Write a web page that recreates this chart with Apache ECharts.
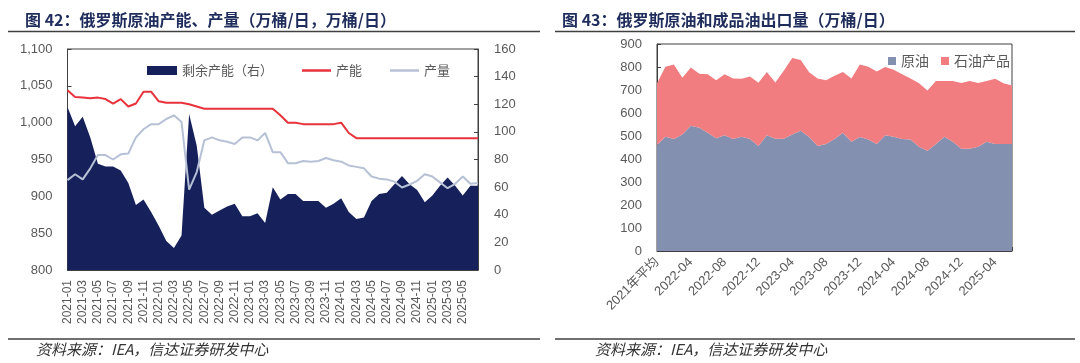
<!DOCTYPE html>
<html><head><meta charset="utf-8">
<script src="https://cdn.jsdelivr.net/npm/echarts@6/dist/echarts.min.js"></script>
<style>html,body{margin:0;padding:0;background:#fff;}#c{width:1080px;height:363px;}</style>
</head><body><div id="c"></div>
<script>
// ---- Left chart: 俄罗斯原油产能、产量 ----
const monthsL = ['2021-01','2021-02','2021-03','2021-04','2021-05','2021-06','2021-07','2021-08','2021-09','2021-10','2021-11','2021-12',
'2022-01','2022-02','2022-03','2022-04','2022-05','2022-06','2022-07','2022-08','2022-09','2022-10','2022-11','2022-12',
'2023-01','2023-02','2023-03','2023-04','2023-05','2023-06','2023-07','2023-08','2023-09','2023-10','2023-11','2023-12',
'2024-01','2024-02','2024-03','2024-04','2024-05','2024-06','2024-07','2024-08','2024-09','2024-10','2024-11','2024-12',
'2025-01','2025-02','2025-03','2025-04','2025-05','2025-06','2025-07'];
const spare = [118,104,111,96,77,75,75,72,63,47,51,42,32,21,16,25,113,90,45,40,43,46,48,39,39,41,34,60,51,55,55,50,50,50,45,48,52,42,37,38,50,55,56,62,68,62,58,49,54,61,67,61,54,61,61];
const capacity = [1044,1035,1034,1033,1034,1032,1026,1032,1022,1026,1042,1042,1029,1027,1027,1027,1025,1022,1019,1019,1019,1019,1019,1019,1019,1019,1019,1019,1010,1000,1000,998,998,998,998,998,1000,986,979,979,979,979,979,979,979,979,979,979,979,979,979,979,979,979,979];
const production = [922,930,923,938,956,956,950,957,958,980,991,998,998,1005,1010,1001,909,933,976,980,976,974,971,980,980,976,986,960,960,945,945,948,947,948,952,949,947,942,940,938,927,924,923,920,912,916,921,930,927,919,911,917,927,917,918];

// ---- Right chart: 俄罗斯原油和成品油出口量 ----
const monthsR = ['2021年平均',
'2022-01','2022-02','2022-03','2022-04','2022-05','2022-06','2022-07','2022-08','2022-09','2022-10','2022-11','2022-12',
'2023-01','2023-02','2023-03','2023-04','2023-05','2023-06','2023-07','2023-08','2023-09','2023-10','2023-11','2023-12',
'2024-01','2024-02','2024-03','2024-04','2024-05','2024-06','2024-07','2024-08','2024-09','2024-10','2024-11','2024-12',
'2025-01','2025-02','2025-03','2025-04','2025-05','2025-06'];
const crude = [461,497,487,507,545,536,514,490,503,487,497,487,456,503,488,488,507,523,496,456,465,487,514,475,496,485,465,503,497,487,485,453,436,465,497,475,445,445,453,475,465,465,465];
const products = [268,304,324,246,253,235,255,252,265,263,252,272,276,275,245,296,332,307,281,294,277,275,264,275,315,316,315,297,291,282,265,276,262,274,242,264,285,294,277,264,284,264,255];

const FONT = '"Liberation Sans", "Noto Sans CJK SC", sans-serif';
const CJK = '"Noto Sans CJK SC", sans-serif';
const AX = '#404040';
const LBL = '#595959';

const chart = echarts.init(document.getElementById('c'), null, {renderer: 'canvas'});
const axisCommon = {
  axisLine: {show: true, lineStyle: {color: AX, width: 1}},
  splitLine: {show: false}
};
chart.setOption({
  animation: false,
  backgroundColor: '#fff',
  title: [
    {text: '图 42：俄罗斯原油产能、产量（万桶/日，万桶/日）', left: 20, top: 7,
     textStyle: {fontSize: 16, fontWeight: 'bold', color: '#1F2D5C', fontFamily: CJK}},
    {text: '图 43：俄罗斯原油和成品油出口量（万桶/日）', left: 557, top: 7,
     textStyle: {fontSize: 16, fontWeight: 'bold', color: '#1F2D5C', fontFamily: CJK}}
  ],
  legend: [
    {data: [{name: '剩余产能（右）', icon: 'rect'}], left: 142, top: 59, itemWidth: 30, itemHeight: 9,
     textStyle: {fontSize: 13, color: LBL, fontFamily: CJK}},
    {data: [{name: '产能', icon: 'rect'}, {name: '产量', icon: 'rect'}], left: 297, top: 59, itemWidth: 29, itemHeight: 2.5, itemGap: 28,
     textStyle: {fontSize: 13, color: LBL, fontFamily: CJK}},
    {data: [{name: '原油', icon: 'rect'}, {name: '石油产品', icon: 'rect'}], left: 883, top: 49,
     itemWidth: 8, itemHeight: 8, itemGap: 12, textStyle: {fontSize: 14, color: LBL, fontFamily: CJK}}
  ],
  grid: [
    {left: 67.5, right: 602, top: 49, bottom: 93, show: true, borderColor: AX, borderWidth: 1, backgroundColor: 'transparent'},
    {left: 657, right: 68, top: 44, bottom: 112, show: true, borderColor: AX, borderWidth: 1, backgroundColor: 'transparent'}
  ],
  xAxis: [
    Object.assign({}, axisCommon, {gridIndex: 0, type: 'category', data: monthsL, boundaryGap: false,
      axisTick: {show: true, inside: true, length: 4, interval: (i) => i % 2 === 0, lineStyle: {color: AX}},
      axisLabel: {rotate: 90, fontSize: 12, color: LBL, fontFamily: FONT, margin: 10,
        interval: (i) => i % 2 === 0 && i <= 52}}),
    Object.assign({}, axisCommon, {gridIndex: 1, type: 'category', data: monthsR, boundaryGap: false,
      axisTick: {show: true, inside: true, length: 4, interval: 0, lineStyle: {color: AX}},
      axisLabel: {rotate: 45, fontSize: 13, color: LBL, fontFamily: FONT, margin: 9, interval: 3}})
  ],
  yAxis: [
    Object.assign({}, axisCommon, {gridIndex: 0, type: 'value', min: 800, max: 1100, interval: 50,
      axisTick: {show: true, inside: true, length: 4, lineStyle: {color: AX}},
      axisLabel: {fontSize: 13, color: LBL, fontFamily: FONT, margin: 15,
        formatter: (v) => v.toLocaleString('en-US')}}),
    Object.assign({}, axisCommon, {gridIndex: 0, type: 'value', position: 'right', min: 0, max: 160, interval: 20,
      axisTick: {show: true, inside: true, length: 4, lineStyle: {color: AX}},
      axisLabel: {fontSize: 13, color: LBL, fontFamily: FONT, margin: 16}}),
    Object.assign({}, axisCommon, {gridIndex: 1, type: 'value', min: 0, max: 900, interval: 100,
      axisTick: {show: true, inside: true, length: 4, lineStyle: {color: AX}},
      axisLabel: {fontSize: 13, color: LBL, fontFamily: FONT, margin: 15}})
  ],
  series: [
    {name: '剩余产能（右）', type: 'line', xAxisIndex: 0, yAxisIndex: 1, data: spare,
     symbol: 'none', showSymbol: false, lineStyle: {width: 0}, itemStyle: {color: '#16215B'},
     areaStyle: {color: '#16215B', opacity: 1}, z: 1},
    {name: '产能', type: 'line', xAxisIndex: 0, yAxisIndex: 0, data: capacity,
     symbol: 'none', showSymbol: false, lineStyle: {width: 2, color: '#E8323C'}, itemStyle: {color: '#E8323C'}, z: 3},
    {name: '产量', type: 'line', xAxisIndex: 0, yAxisIndex: 0, data: production,
     symbol: 'none', showSymbol: false, lineStyle: {width: 2, color: '#B7C1D6'}, itemStyle: {color: '#B7C1D6'}, z: 3},
    {name: '原油', type: 'line', xAxisIndex: 1, yAxisIndex: 2, stack: 'exp', data: crude,
     symbol: 'none', showSymbol: false, lineStyle: {width: 0}, itemStyle: {color: '#8390AF'},
     areaStyle: {color: '#8390AF', opacity: 1}},
    {name: '石油产品', type: 'line', xAxisIndex: 1, yAxisIndex: 2, stack: 'exp', data: products,
     symbol: 'none', showSymbol: false, lineStyle: {width: 0}, itemStyle: {color: '#F17D80'},
     areaStyle: {color: '#F17D80', opacity: 1}}
  ],
  graphic: [
    {type: 'line', shape: {x1: 8, y1: 31.5, x2: 540, y2: 31.5}, style: {stroke: '#404040', lineWidth: 1.5}},
    {type: 'line', shape: {x1: 555, y1: 31.5, x2: 1075, y2: 31.5}, style: {stroke: '#404040', lineWidth: 1.5}},
    {type: 'line', shape: {x1: 8, y1: 339, x2: 540, y2: 339}, style: {stroke: '#404040', lineWidth: 1.5}},
    {type: 'line', shape: {x1: 555, y1: 339, x2: 1075, y2: 339}, style: {stroke: '#404040', lineWidth: 1.5}},
    {type: 'text', left: 36, top: 342, style: {text: '资料来源：IEA，信达证券研发中心', fill: '#333',
      font: 'italic 15px "Noto Sans CJK SC", sans-serif'}},
    {type: 'text', left: 595, top: 342, style: {text: '资料来源：IEA，信达证券研发中心', fill: '#333',
      font: 'italic 15px "Noto Sans CJK SC", sans-serif'}}
  ]
});
</script>
</body></html>
